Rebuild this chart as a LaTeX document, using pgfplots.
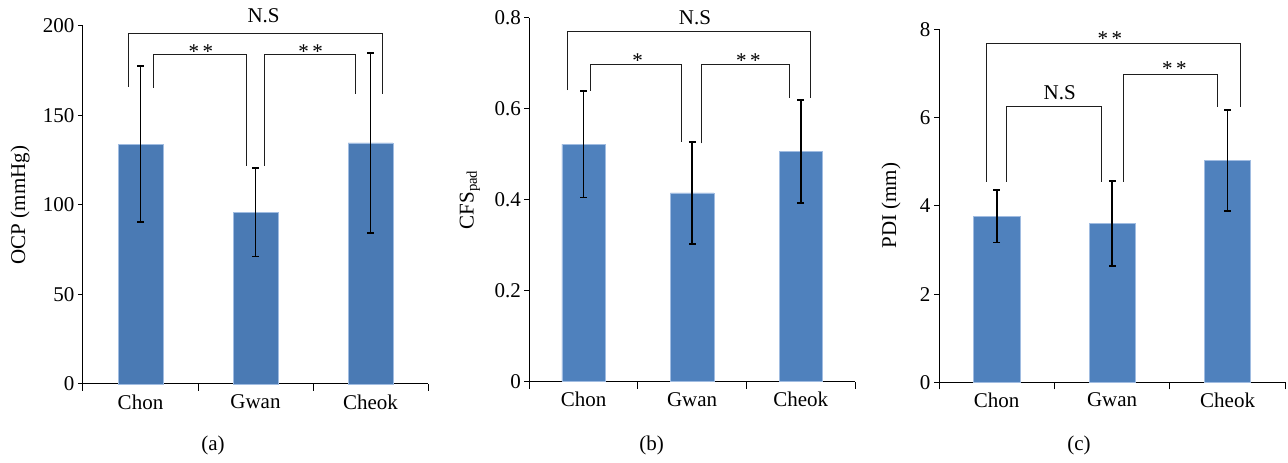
\documentclass[border=0pt]{standalone}
\usepackage{pgfplots}
\pgfplotsset{compat=1.18}
\usepackage{fontspec}
\setmainfont{Liberation Serif}
\definecolor{barA}{RGB}{74,122,180}
\definecolor{barB}{RGB}{79,129,189}
\definecolor{barEdge}{RGB}{160,188,225}
\definecolor{brk}{RGB}{30,30,30}
\newcommand{\ff}{\fontsize{21}{24}\selectfont}
\pgfplotsset{
  panel/.style={
    scale only axis,
    axis x line*=bottom, axis y line*=left,
    axis line style={line width=1pt, black},
    xmin=-0.5, xmax=2.5,
    xtick={0,1,2}, xticklabels={Chon,Gwan,Cheok},
    major x tick style={draw=none},
    minor xtick={-0.5,0.5,1.5,2.5},
    minor x tick style={line width=1pt, black},
    minor tick length=7pt, major tick length=5pt,
    tick align=outside,
    y tick style={line width=1pt, black},
    ymin=0, clip=false, ybar,
    ticklabel style={font=\ff},
    label style={font=\ff},
    /pgf/number format/assume math mode=true,
    xticklabel style={yshift=-2pt},
  },
  bars/.style 2 args={
    fill=#1, draw=barEdge, line width=0.6pt, bar width=#2,
    error bars/.cd, y dir=both, y explicit,
    error bar style={line width=1.6pt, black},
    error mark options={rotate=90, mark size=3.4pt, line width=1.6pt, black},
  },
  brk/.style={line width=1.2pt, brk},
}
\begin{document}
\begin{tikzpicture}[x=1pt,y=1pt]
\path[use as bounding box] (0,0) rectangle (1288,463);

% ---------------- (a) ----------------
\begin{axis}[panel, at={(83pt,79pt)}, anchor=south west,
  width=345pt, height=358pt, ymax=200, ytick={0,50,100,150,200},
  ylabel={OCP (mmHg)},
  ylabel style={at={(axis description cs:-0.154,0.5)}, anchor=south, inner sep=0pt}]
\addplot[bars={barA}{0.39}] coordinates {
  (0,134.05) +- (0,43.55)
  (1,96.0)   +- (0,24.7)
  (2,134.7)  +- (0,50.2)
};
\draw[brk] (axis cs:-0.11,166) |- (axis cs:2.106,196) -- (axis cs:2.106,162);
\draw[brk] (axis cs:0.111,165.5) |- (axis cs:0.923,184.4) -- (axis cs:0.923,121.8);
\draw[brk] (axis cs:1.077,121.8) |- (axis cs:1.871,184.4) -- (axis cs:1.871,162);
\node[anchor=base, font=\ff, inner sep=0pt, yshift=10.5pt] at (axis cs:1.07,196) {N.S};
\node[anchor=base, font=\ff, inner sep=0pt, yshift=-5pt] at (axis cs:0.525,184.4) {*\,*};
\node[anchor=base, font=\ff, inner sep=0pt, yshift=-5pt] at (axis cs:1.48,184.4) {*\,*};
\end{axis}
\node[font=\ff] at (213pt,18pt) {(a)};

% ---------------- (b) ----------------
\begin{axis}[panel, at={(529.3pt,81.3pt)}, anchor=south west,
  width=325.7pt, height=364pt, ymax=0.8, ytick={0,0.2,0.4,0.6,0.8},
  yticklabel style={/pgf/number format/fixed, /pgf/number format/precision=1},
  ylabel={CFS\textsubscript{pad}},
  ylabel style={at={(axis description cs:-0.151,0.5)}, anchor=south, inner sep=0pt}]
\addplot[bars={barB}{0.40}] coordinates {
  (0,0.522) +- (0,0.117)
  (1,0.415) +- (0,0.112)
  (2,0.506) +- (0,0.113)
};
\draw[brk] (axis cs:-0.153,0.641) |- (axis cs:2.088,0.771) -- (axis cs:2.088,0.624);
\draw[brk] (axis cs:0.062,0.639) |- (axis cs:0.897,0.698) -- (axis cs:0.897,0.527);
\draw[brk] (axis cs:1.087,0.524) |- (axis cs:1.894,0.698) -- (axis cs:1.894,0.624);
\node[anchor=base, font=\ff, inner sep=0pt, yshift=6.7pt] at (axis cs:1.026,0.771) {N.S};
\node[anchor=base, font=\ff, inner sep=0pt, yshift=-3pt] at (axis cs:0.498,0.698) {*};
\node[anchor=base, font=\ff, inner sep=0pt, yshift=-3pt] at (axis cs:1.517,0.698) {*\,*};
\end{axis}
\node[font=\ff] at (651.7pt,18pt) {(b)};

% ---------------- (c) ----------------
\begin{axis}[panel, at={(939pt,80.7pt)}, anchor=south west,
  width=346.3pt, height=353pt, ymax=8, ytick={0,2,4,6,8},
  ylabel={PDI (mm)},
  ylabel style={at={(axis description cs:-0.110,0.5)}, anchor=south, inner sep=0pt}]
\addplot[bars={barB}{0.40}] coordinates {
  (0,3.765) +- (0,0.595)
  (1,3.60)  +- (0,0.96)
  (2,5.025) +- (0,1.145)
};
\draw[brk] (axis cs:-0.095,4.55) |- (axis cs:2.108,7.68) -- (axis cs:2.108,6.25);
\draw[brk] (axis cs:0.078,4.55) |- (axis cs:0.906,6.26) -- (axis cs:0.906,4.55);
\draw[brk] (axis cs:1.097,4.55) |- (axis cs:1.906,6.98) -- (axis cs:1.906,6.25);
\node[anchor=base, font=\ff, inner sep=0pt, yshift=-2pt] at (axis cs:0.98,7.68) {*\,*};
\node[anchor=base, font=\ff, inner sep=0pt, yshift=-1pt] at (axis cs:1.54,6.98) {*\,*};
\node[anchor=base, font=\ff, inner sep=0pt, yshift=6.3pt] at (axis cs:0.546,6.26) {N.S};
\end{axis}
\node[font=\ff] at (1079pt,18pt) {(c)};
\end{tikzpicture}
\end{document}
